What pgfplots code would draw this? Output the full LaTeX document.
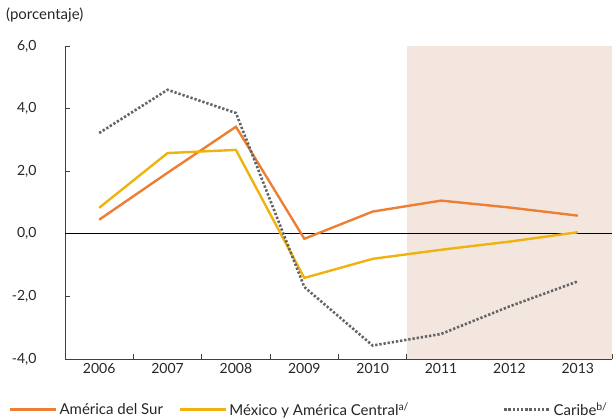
\documentclass[border=0pt]{standalone}
\usepackage{pgfplots}
\pgfplotsset{compat=1.18}
\usepackage{fontspec}
\setmainfont{Lato}
\definecolor{cSur}{HTML}{EC7F34}
\definecolor{cMex}{HTML}{EFB20F}
\definecolor{cCar}{HTML}{646466}
\definecolor{cShade}{HTML}{F3E6DE}
\definecolor{cAxis}{HTML}{404040}
\begin{document}
\begin{tikzpicture}
\begin{axis}[
  name=ax,
  at={(0,0)}, anchor=south west,
  scale only axis, width=547pt, height=313pt,
  xmin=-0.5, xmax=7.5, ymin=-4, ymax=6,
  axis x line*=bottom, axis y line*=left,
  axis line style={cAxis, line width=0.8pt},
  xtick={0,...,7},
  xticklabels={2006,2007,2008,2009,2010,2011,2012,2013},
  minor xtick={-0.5,0.5,...,7.5},
  major x tick style={draw=none},
  minor tick length=5pt,
  minor tick style={cAxis, line width=0.8pt},
  ytick={-4,-2,0,2,4,6},
  major tick length=5pt,
  major y tick style={cAxis, line width=0.8pt},
  tick align=inside,
  yticklabel style={/pgf/number format/use comma, /pgf/number format/fixed, /pgf/number format/fixed zerofill, /pgf/number format/precision=1, xshift=-25pt},
  /pgf/number format/assume math mode=true,
  ticklabel style={font=\fontsize{14}{16}\selectfont, text=black!85},
  xticklabel style={yshift=-1pt},
  clip=false,
  legend columns=3,
  legend style={draw=none, fill=none, at={(rel axis cs:-0.108,-0.125)}, anchor=north west,
    font=\fontsize{15}{17}\selectfont, text=black!85,
    /tikz/column 2/.style={column sep=14pt},
    /tikz/column 4/.style={column sep=92pt}},
  legend image code/.code={\draw[#1] (0pt,0pt) -- (46pt,0pt);},
]
\addplot[fill=cShade, draw=none, forget plot] coordinates {(4.5,-4) (4.5,6) (7.5,6) (7.5,-4)} -- cycle;
\addplot[black, line width=0.8pt, forget plot] coordinates {(-0.5,0) (7.5,0)};
\addplot[cSur, line width=2.4pt] coordinates {
(0,0.45) (1,1.95) (2,3.42) (3,-0.16) (4,0.71) (5,1.06) (6,0.84) (7,0.58)};
\addlegendentry{América del Sur}
\addplot[cMex, line width=2.4pt] coordinates {
(0,0.83) (1,2.58) (2,2.68) (3,-1.41) (4,-0.80) (5,-0.51) (6,-0.25) (7,0.05)};
\addlegendentry{México y América Central\textsuperscript{a/}}
\addplot[cCar, line width=2.6pt, dash pattern=on 2.3pt off 1.9pt] coordinates {
(0,3.22) (1,4.60) (2,3.86) (3,-1.70) (4,-3.57) (5,-3.20) (6,-2.32) (7,-1.52)};
\addlegendentry{Caribe\textsuperscript{b/}}
\node[anchor=west, font=\fontsize{15}{17}\selectfont, text=black!85] at (rel axis cs:-0.114,1.099) {(porcentaje)};
\end{axis}
\pgfresetboundingbox
\path[use as bounding box] ([xshift=-65pt,yshift=-61pt]ax.south west) rectangle ([xshift=1pt,yshift=46pt]ax.north east);
\end{tikzpicture}
\end{document}
